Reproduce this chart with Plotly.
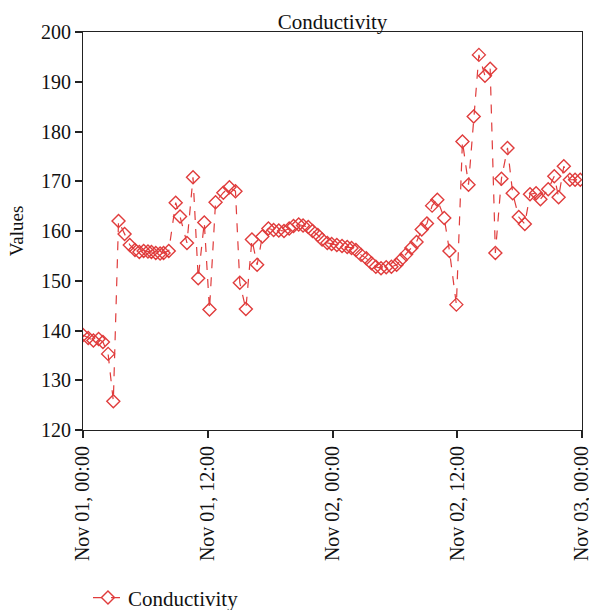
import plotly.graph_objects as go

times = [
    "2023-11-01 00:00", "2023-11-01 00:30", "2023-11-01 01:00", "2023-11-01 01:30", "2023-11-01 01:55",
    "2023-11-01 02:25", "2023-11-01 02:55", "2023-11-01 03:25", "2023-11-01 04:00", "2023-11-01 04:30",
    "2023-11-01 05:00", "2023-11-01 05:25", "2023-11-01 05:50", "2023-11-01 06:15", "2023-11-01 06:35",
    "2023-11-01 07:00", "2023-11-01 07:25", "2023-11-01 07:45", "2023-11-01 08:15", "2023-11-01 08:55",
    "2023-11-01 09:20", "2023-11-01 10:00", "2023-11-01 10:35", "2023-11-01 11:05", "2023-11-01 11:40",
    "2023-11-01 12:10", "2023-11-01 12:45", "2023-11-01 13:30", "2023-11-01 14:05", "2023-11-01 14:40",
    "2023-11-01 15:05", "2023-11-01 15:40", "2023-11-01 16:15", "2023-11-01 16:45", "2023-11-01 17:15",
    "2023-11-01 17:50", "2023-11-01 18:20", "2023-11-01 18:50", "2023-11-01 19:20", "2023-11-01 19:50",
    "2023-11-01 20:15", "2023-11-01 20:45", "2023-11-01 21:10", "2023-11-01 21:40", "2023-11-01 22:05",
    "2023-11-01 22:35", "2023-11-01 23:00", "2023-11-01 23:30", "2023-11-01 23:55", "2023-11-02 00:25",
    "2023-11-02 00:55", "2023-11-02 01:25", "2023-11-02 01:50", "2023-11-02 02:15", "2023-11-02 02:45",
    "2023-11-02 03:15", "2023-11-02 03:45", "2023-11-02 04:10", "2023-11-02 04:40", "2023-11-02 05:10",
    "2023-11-02 05:40", "2023-11-02 06:10", "2023-11-02 06:35", "2023-11-02 07:05", "2023-11-02 07:35",
    "2023-11-02 08:05", "2023-11-02 08:35", "2023-11-02 09:05", "2023-11-02 09:35", "2023-11-02 10:05",
    "2023-11-02 10:45", "2023-11-02 11:15", "2023-11-02 11:55", "2023-11-02 12:30", "2023-11-02 13:05",
    "2023-11-02 13:35", "2023-11-02 14:05", "2023-11-02 14:40", "2023-11-02 15:10", "2023-11-02 15:40",
    "2023-11-02 16:15", "2023-11-02 16:50", "2023-11-02 17:20", "2023-11-02 17:55", "2023-11-02 18:30",
    "2023-11-02 19:00", "2023-11-02 19:35", "2023-11-02 20:00", "2023-11-02 20:45", "2023-11-02 21:20",
    "2023-11-02 21:45", "2023-11-02 22:15", "2023-11-02 22:50", "2023-11-02 23:20", "2023-11-02 23:50",
]

conductivity = [
    139.1, 138.5, 138.0, 138.3, 137.7, 135.3, 125.8, 162.0, 159.4, 157.2,
    156.2, 155.8, 156.0, 155.9, 155.8, 155.6, 155.5, 155.6, 156.0, 165.7,
    162.9, 157.6, 170.8, 150.5, 161.7, 144.2, 165.8, 167.7, 168.8, 168.0,
    149.6, 144.3, 158.3, 153.2, 158.9, 160.5, 160.2, 160.1, 160.0, 160.5,
    161.0, 161.3, 161.1, 160.8, 160.0, 159.2, 158.3, 157.6, 157.4, 157.2,
    157.0, 156.8, 156.6, 156.2, 155.2, 154.5, 153.5, 152.8, 152.5, 152.7,
    152.8, 153.2, 154.2, 155.3, 156.6, 157.8, 160.3, 161.5, 165.1, 166.3,
    162.6, 156.0, 145.2, 178.0, 169.3, 183.0, 195.4, 191.2, 192.6, 155.6,
    170.5, 176.7, 167.6, 162.8, 161.4, 167.4, 167.6, 166.4, 168.4, 171.0,
    166.8, 173.0, 170.3, 170.3, 170.3,
]

x_ticks = ["2023-11-01 00:00", "2023-11-01 12:00", "2023-11-02 00:00",
           "2023-11-02 12:00", "2023-11-03 00:00"]
x_tick_labels = ["Nov 01, 00:00", "Nov 01, 12:00", "Nov 02, 00:00",
                 "Nov 02, 12:00", "Nov 03, 00:00"]
x_range = ["2023-11-01 00:00:00", "2023-11-03 00:00:00.5"]
y_range = [120, 200]

RED = "#e03c3c"
FONT = "Liberation Serif"
INK = "#111"

fig = go.Figure()
fig.add_trace(go.Scatter(
    x=times, y=conductivity, mode="lines+markers", name="Conductivity",
    line=dict(color=RED, width=1.2, dash="dash"),
    marker=dict(symbol="diamond-open", size=10, color=RED, line=dict(width=1.4)),
))

fig.update_layout(
    width=589, height=610,
    margin=dict(l=83, r=7, t=32, b=180, autoexpand=False),
    paper_bgcolor="white", plot_bgcolor="white",
    font=dict(family=FONT, size=20, color=INK),
    title=dict(text="Conductivity", x=0.5, xref="paper", xanchor="center",
               y=1, yref="paper", yanchor="bottom", pad=dict(b=3),
               font=dict(family=FONT, size=21, color=INK)),
    showlegend=True,
    legend=dict(orientation="h", x=0.01, xanchor="left", y=-0.422, yanchor="middle",
                font=dict(family=FONT, size=21, color=INK), bgcolor="rgba(0,0,0,0)"),
)

fig.update_xaxes(
    type="date", range=x_range, tickmode="array", tickvals=x_ticks, ticktext=x_tick_labels,
    tickangle=-90, automargin=False, ticklabeloverflow="allow",
    showline=True, linecolor="#222", linewidth=1.2, mirror=True,
    ticks="outside", ticklen=7, tickcolor="#222", tickwidth=1.5,
    showgrid=False, zeroline=False,
    tickfont=dict(family=FONT, size=20, color=INK),
)
fig.update_yaxes(
    range=y_range, dtick=10, automargin=False,
    title=dict(text="Values", font=dict(family=FONT, size=19, color=INK), standoff=12),
    showline=True, linecolor="#222", linewidth=1.2, mirror=True,
    ticks="outside", ticklen=7, tickcolor="#222", tickwidth=1.5,
    showgrid=False, zeroline=False,
    tickfont=dict(family=FONT, size=20, color=INK),
)

fig.write_html("out.html")
